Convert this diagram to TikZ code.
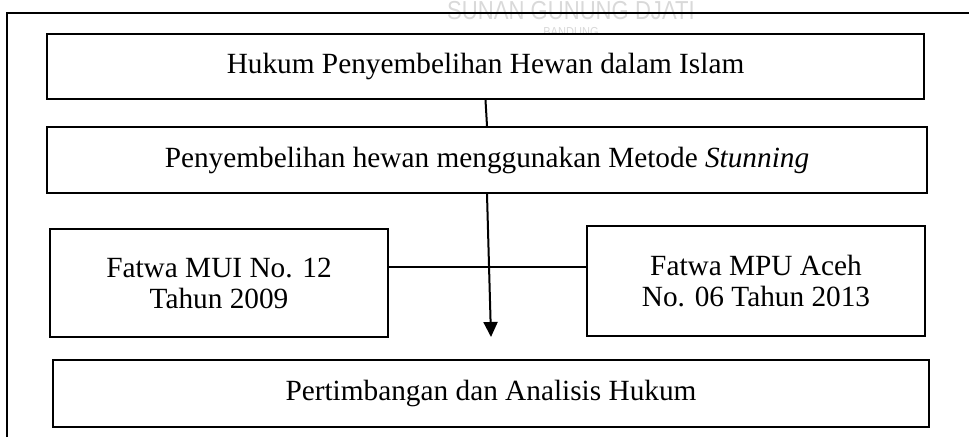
\documentclass[tikz,border=0pt]{standalone}
\usepackage{fontspec}
\setmainfont{Liberation Serif}
\newfontfamily\wmfont{Liberation Sans}
\usetikzlibrary{arrows.meta}
\begin{document}
\begin{tikzpicture}[x=1pt,y=-1pt,
  boxnode/.style={draw,fill=white,line width=2.2pt,inner sep=0pt,align=center,
    font=\fontsize{29.3}{31}\selectfont},
  link/.style={line width=2pt},
  wm/.style={text=gray!30,inner sep=0pt,align=center,font=\wmfont\fontsize{26}{26}\selectfont}]
\useasboundingbox (0,0) rectangle (969,437);
% watermark
\node[wm,xscale=0.85,anchor=north] (wm) at (571,1) {SUNAN GUNUNG DJATI\\[-9pt]{\fontsize{13}{13}\selectfont BANDUNG}};
% outer frame
\draw[line width=2pt] (7,437) -- (7,13) -- (969,13);
% boxes
\node[boxnode,minimum width=877pt,minimum height=65pt] (B1) at (485.5,66.5) {Hukum Penyembelihan Hewan dalam Islam};
\node[boxnode,minimum width=880pt,minimum height=66pt] (B2) at (487,160) {Penyembelihan hewan menggunakan Metode \textit{Stunning}};
\node[boxnode,minimum width=338pt,minimum height=108pt] (L) at (219,283) {Fatwa MUI No. 12\\Tahun 2009};
\node[boxnode,minimum width=338pt,minimum height=110pt] (R) at (756,281) {Fatwa MPU Aceh\\No. 06 Tahun 2013};
\node[boxnode,minimum width=876pt,minimum height=67pt] (B3) at (491,393.5) {Pertimbangan dan Analisis Hukum};
% connectors
\coordinate (hy) at (0,267);
\coordinate (tip) at (491,337);
\draw[link] (B1.south) -- (B2.north);
\draw[link] (L.east |- hy) -- (R.west |- hy);
\draw[link,-{Triangle[width=14pt,length=15pt]}] (B2.south) -- (tip);
\end{tikzpicture}
\end{document}
